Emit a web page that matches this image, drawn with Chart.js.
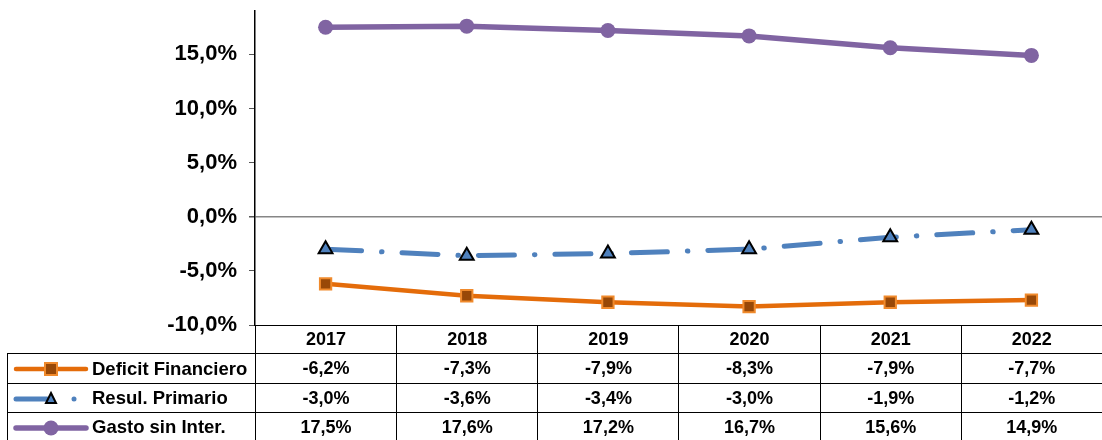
<!DOCTYPE html>
<html lang="es">
<head>
  <meta charset="UTF-8">
  <title>Resultado fiscal 2017-2022</title>
  <script src="https://cdn.jsdelivr.net/npm/chart.js"></script>
  <style>
    html, body { margin: 0; padding: 0; background: #fff; }
    #wrap { position: relative; width: 1102px; height: 440px; overflow: hidden; }
    #chartBox { position: absolute; left: 0; top: 0; width: 1112px; height: 440px; }
    #dataTable {
      position: absolute; left: 7px; top: 325px;
      border-collapse: collapse; table-layout: fixed;
      font-family: "Liberation Sans", Arial, sans-serif; font-weight: bold; font-size: 18px; color: #000;
    }
    #dataTable td { border: 1px solid #000; padding: 0; text-align: center; white-space: nowrap; overflow: hidden; }
    #dataTable td.blank { border-left: none; border-top: none; }
    #dataTable td.name { text-align: left; font-size: 18.5px; }
    #dataTable td.name svg { vertical-align: middle; margin: 0 3px 0 5px; }
    #dataTable td.name span { vertical-align: middle; }
  </style>
</head>
<body>
  <div id="wrap">
    <div id="chartBox"><canvas id="fiscalChart" width="1112" height="440"></canvas></div>
    <table id="dataTable"></table>
  </div>

  <script>
    // years and series (% of GDP)
    var years = ['2017', '2018', '2019', '2020', '2021', '2022'];
    var deficitFinanciero = [-6.2, -7.3, -7.9, -8.3, -7.9, -7.7];
    var resulPrimario = [-3.0, -3.6, -3.4, -3.0, -1.9, -1.2];
    var gastoSinInter = [17.5, 17.6, 17.2, 16.7, 15.6, 14.9];
    var yTicks = [-10, -5, 0, 5, 10, 15];

    var seriesNames = ['Deficit Financiero', 'Resul. Primario', 'Gasto sin Inter.'];

    function pct(v) {
      return v.toFixed(1).replace('.', ',') + '%';
    }

    var ctx = document.getElementById('fiscalChart').getContext('2d');
    var chart = new Chart(ctx, {
      type: 'line',
      data: {
        labels: years,
        datasets: [
          {
            label: seriesNames[0],
            data: deficitFinanciero,
            borderColor: '#e46c0a',
            borderWidth: 4.5,
            pointStyle: 'rect',
            pointRadius: 8,
            pointBackgroundColor: '#984807',
            pointBorderColor: '#f08a2c',
            pointBorderWidth: 2,
            tension: 0
          },
          {
            label: seriesNames[1],
            data: resulPrimario,
            borderColor: '#4f81bd',
            borderWidth: 5,
            borderDash: [36, 20, 0.5, 20],
            borderCapStyle: 'round',
            pointStyle: 'triangle',
            pointRadius: 8,
            pointBackgroundColor: '#4f81bd',
            pointBorderColor: '#000',
            pointBorderWidth: 2,
            tension: 0
          },
          {
            label: seriesNames[2],
            data: gastoSinInter,
            borderColor: '#8064a2',
            borderWidth: 5.5,
            pointStyle: 'circle',
            pointRadius: 7.5,
            pointBackgroundColor: '#8064a2',
            pointBorderColor: '#8064a2',
            pointBorderWidth: 0,
            tension: 0
          }
        ]
      },
      options: {
        responsive: false,
        animation: false,
        layout: { padding: { top: 11, bottom: 115, left: 0, right: 0 } },
        plugins: { legend: { display: false }, tooltip: { enabled: false } },
        scales: {
          x: { display: false, offset: true },
          y: {
            min: -10,
            max: 19,
            afterBuildTicks: function(scale) {
              scale.ticks = yTicks.map(function(v) { return { value: v }; });
            },
            afterFit: function(scale) {
              scale.width = 255;
              scale.paddingTop = 0;
              scale.paddingBottom = 0;
            },
            ticks: {
              color: '#000',
              padding: 12,
              font: { family: '"Liberation Sans", Arial, sans-serif', size: 22, weight: 'bold' },
              callback: function(v) { return pct(v); }
            },
            grid: {
              drawOnChartArea: true,
              tickLength: 6,
              tickColor: '#555',
              color: function(c) {
                if (c.tick && c.tick.value === 0) return '#868686';
                if (c.tick && c.tick.value === -10) return '#000';
                return 'rgba(0,0,0,0)';
              },
              lineWidth: function(c) { return (c.tick && c.tick.value === 0) ? 1.5 : 1; }
            },
            border: { display: true, color: '#000', width: 1.5 }
          }
        }
      }
    });

    // legend keys drawn next to series names in the data table
    function keySvg(i) {
      var ds = chart.data.datasets[i];
      var s = '<svg width="76" height="20" viewBox="0 0 76 20">';
      if (i === 0) {
        s += '<line x1="3" y1="10" x2="73" y2="10" stroke="' + ds.borderColor + '" stroke-width="4.5" stroke-linecap="round"/>';
        s += '<rect x="32" y="4" width="12" height="12" fill="' + ds.pointBackgroundColor + '" stroke="' + ds.pointBorderColor + '" stroke-width="2"/>';
      } else if (i === 1) {
        s += '<line x1="3" y1="10" x2="34" y2="10" stroke="' + ds.borderColor + '" stroke-width="5" stroke-linecap="round"/>';
        s += '<circle cx="61" cy="10" r="2.5" fill="' + ds.borderColor + '"/>';
        s += '<polygon points="38,4 43,14 33,14" fill="' + ds.pointBackgroundColor + '" stroke="#000" stroke-width="2"/>';
      } else {
        s += '<line x1="3" y1="10" x2="73" y2="10" stroke="' + ds.borderColor + '" stroke-width="5.5" stroke-linecap="round"/>';
        s += '<circle cx="38" cy="10" r="7.5" fill="' + ds.pointBackgroundColor + '"/>';
      }
      return s + '</svg>';
    }

    // build the data table aligned with the category columns
    function buildTable() {
      var area = chart.chartArea;
      var colW = area.width / years.length;
      var firstW = area.left - 7;
      var rowH = [28, 30, 29, 29];
      var table = document.getElementById('dataTable');
      var html = '<colgroup><col style="width:' + firstW + 'px">';
      years.forEach(function() { html += '<col style="width:' + colW + 'px">'; });
      html += '</colgroup>';
      html += '<tr style="height:' + rowH[0] + 'px"><td class="blank"></td>';
      years.forEach(function(y) { html += '<td>' + y + '</td>'; });
      html += '</tr>';
      chart.data.datasets.forEach(function(ds, i) {
        html += '<tr style="height:' + rowH[i + 1] + 'px"><td class="name">' + keySvg(i) + '<span>' + ds.label + '</span></td>';
        ds.data.forEach(function(v) { html += '<td>' + pct(v) + '</td>'; });
        html += '</tr>';
      });
      table.innerHTML = html;
      table.style.width = (firstW + colW * years.length) + 'px';
    }
    buildTable();
  </script>
</body>
</html>
